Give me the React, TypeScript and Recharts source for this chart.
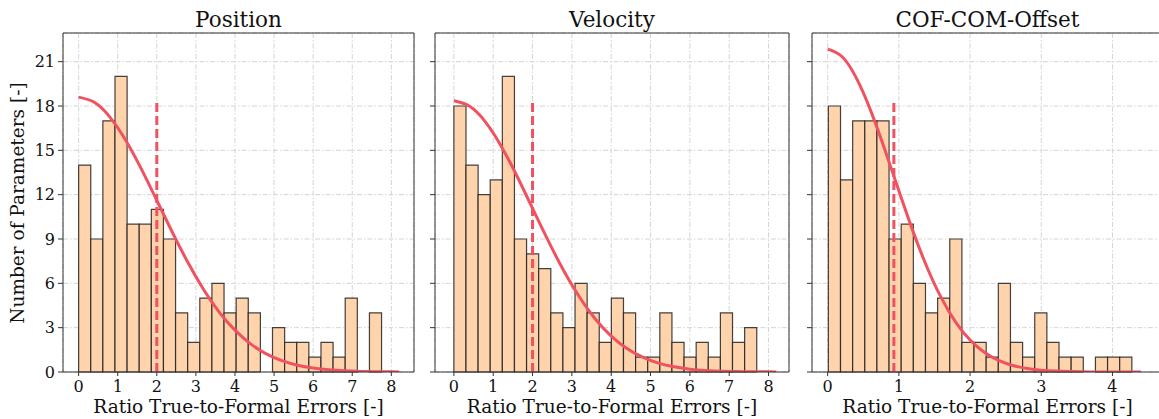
import {
  ComposedChart,
  Line,
  XAxis,
  YAxis,
  CartesianGrid,
  ReferenceArea,
  ReferenceLine,
} from "recharts";

// histogram counts per bin (25 bins each)
const posCounts = [14, 9, 17, 20, 10, 10, 11, 9, 4, 2, 5, 6, 4, 5, 4, 0, 3, 2, 2, 1, 2, 1, 5, 0, 4];
const velCounts = [18, 14, 12, 13, 20, 9, 8, 7, 4, 3, 6, 4, 2, 5, 4, 1, 1, 4, 2, 1, 2, 1, 4, 2, 3];
const cofCounts = [18, 13, 17, 17, 17, 9, 10, 6, 4, 5, 9, 2, 2, 1, 6, 2, 1, 4, 2, 1, 1, 0, 1, 1, 1];

// fitted half-normal curve
const longCurveX = [0, 0.4, 0.8, 1.2, 1.6, 2.0, 2.4, 2.8, 3.2, 3.6, 4.0, 4.4, 4.8, 5.2, 5.6, 6.0, 6.4, 6.8, 7.2, 7.6, 8.0, 8.2];
const posCurveY = [18.6, 18.25, 17.25, 15.7, 13.76, 11.61, 9.44, 7.39, 5.57, 4.04, 2.83, 1.9, 1.23, 0.77, 0.46, 0.27, 0.15, 0.08, 0.04, 0.02, 0.01, 0.0];
const velCurveY = [18.35, 17.98, 16.93, 15.3, 13.28, 11.07, 8.87, 6.82, 5.04, 3.57, 2.43, 1.59, 1.0, 0.6, 0.35, 0.19, 0.1, 0.05, 0.03, 0.01, 0.01, 0.0];
const shortCurveX = [0, 0.2, 0.4, 0.6, 0.8, 1.0, 1.2, 1.4, 1.6, 1.8, 2.0, 2.2, 2.4, 2.6, 2.8, 3.0, 3.2, 3.4, 3.6, 3.8, 4.0, 4.2, 4.4];
const cofCurveY = [21.85, 21.35, 19.92, 17.74, 15.09, 12.26, 9.5, 7.04, 4.98, 3.36, 2.16, 1.33, 0.78, 0.44, 0.24, 0.12, 0.06, 0.03, 0.01, 0.0, 0.0, 0.0, 0.0];

const titles = ["Position", "Velocity", "COF-COM-Offset"];
const longTicks = [0, 1, 2, 3, 4, 5, 6, 7, 8];
const shortTicks = [0, 1, 2, 3, 4];
const yTicks = [0, 3, 6, 9, 12, 15, 18, 21];

const FONT = '"DejaVu Serif", serif';
const BAR_FILL = "#ffd3ab";
const RED = "#f0525f";
const Y_MAX = 22.94;
const H = 419;
const TOP = 33;

interface PanelProps {
  title: string;
  left: number;
  width: number;
  yAxisWidth: number;
  marginLeft: number;
  marginRight: number;
  domain: [number, number];
  ticks: number[];
  counts: number[];
  binStart: number;
  binWidth: number;
  curveX: number[];
  curveY: number[];
  sigma: number;
  showYLabels: boolean;
}

function Panel(p: PanelProps) {
  const data = p.curveX.map((x, i) => ({ x, y: p.curveY[i] }));
  const plotLeft = p.left + p.marginLeft + p.yAxisWidth;
  const plotRight = p.left + p.width - p.marginRight;
  const tickStyle = { fontSize: 16, fontFamily: FONT, fill: "#111" };

  return (
    <>
      <div
        style={{
          position: "absolute",
          left: plotLeft,
          width: plotRight - plotLeft,
          top: 7,
          textAlign: "center",
          fontFamily: FONT,
          fontSize: 21.5,
          lineHeight: "25px",
          color: "#111",
        }}
      >
        {p.title}
      </div>
      <div style={{ position: "absolute", left: p.left, top: 0 }}>
        <ComposedChart
          width={p.width}
          height={H}
          data={data}
          margin={{ top: TOP, right: p.marginRight, bottom: 0, left: p.marginLeft }}
        >
          <CartesianGrid stroke="#d4d4d4" strokeDasharray="5 2 1.5 2" />
          <XAxis
            dataKey="x"
            type="number"
            domain={p.domain}
            ticks={p.ticks}
            allowDataOverflow
            height={H - 372}
            tickSize={4}
            tickMargin={5}
            stroke="#333"
            tick={tickStyle}
            label={{
              value: "Ratio True-to-Formal Errors [-]",
              position: "insideBottom",
              offset: 6,
              style: { fontSize: 18.5, fontFamily: FONT, fill: "#111" },
            }}
          />
          <YAxis
            type="number"
            domain={[0, Y_MAX]}
            ticks={yTicks}
            allowDataOverflow
            width={p.yAxisWidth}
            tickSize={5}
            tickMargin={3}
            stroke="#333"
            tick={tickStyle}
            tickFormatter={(v: number) => (p.showYLabels ? String(v) : "")}
          />
          {p.counts.map((c, i) =>
            c > 0 ? (
              <ReferenceArea
                key={i}
                x1={p.binStart + i * p.binWidth}
                x2={p.binStart + (i + 1) * p.binWidth}
                y1={0}
                y2={c}
                fill={BAR_FILL}
                fillOpacity={1}
                stroke="#222"
                strokeOpacity={0.85}
                strokeWidth={1.2}
              />
            ) : null
          )}
          <ReferenceLine
            segment={[
              { x: p.sigma, y: 0 },
              { x: p.sigma, y: 18.3 },
            ]}
            stroke={RED}
            strokeWidth={3}
            strokeDasharray="9 4"
          />
          <Line
            dataKey="y"
            type="natural"
            stroke={RED}
            strokeWidth={3}
            dot={false}
            isAnimationActive={false}
          />
          {/* top and right spines */}
          <ReferenceLine y={Y_MAX} stroke="#333" strokeWidth={1} />
          <ReferenceLine x={p.domain[1]} stroke="#333" strokeWidth={1} />
        </ComposedChart>
      </div>
    </>
  );
}

export default function App() {
  return (
    <div
      style={{
        position: "absolute",
        left: 0,
        top: 0,
        width: 1159,
        height: H,
        overflow: "hidden",
        background: "#fff",
      }}
    >
      <div
        style={{
          position: "absolute",
          left: 17.5 - 170,
          top: 202.5 - 11,
          width: 340,
          height: 22,
          lineHeight: "22px",
          textAlign: "center",
          transform: "rotate(-90deg)",
          fontFamily: FONT,
          fontSize: 18.5,
          color: "#111",
        }}
      >
        Number of Parameters [-]
      </div>
      <Panel
        title={titles[0]}
        left={0}
        width={424}
        yAxisWidth={50}
        marginLeft={13}
        marginRight={10}
        domain={[-0.4, 8.58]}
        ticks={longTicks}
        counts={posCounts}
        binStart={0}
        binWidth={0.31}
        curveX={longCurveX}
        curveY={posCurveY}
        sigma={2.0}
        showYLabels
      />
      <Panel
        title={titles[1]}
        left={424}
        width={375}
        yAxisWidth={11}
        marginLeft={0}
        marginRight={10}
        domain={[-0.48, 8.52]}
        ticks={longTicks}
        counts={velCounts}
        binStart={0}
        binWidth={0.308}
        curveX={longCurveX}
        curveY={velCurveY}
        sigma={2.0}
        showYLabels={false}
      />
      <Panel
        title={titles[2]}
        left={799}
        width={370}
        yAxisWidth={13}
        marginLeft={0}
        marginRight={6}
        domain={[-0.22, 4.71]}
        ticks={shortTicks}
        counts={cofCounts}
        binStart={0.01}
        binWidth={0.1705}
        curveX={shortCurveX}
        curveY={cofCurveY}
        sigma={0.93}
        showYLabels={false}
      />
    </div>
  );
}
